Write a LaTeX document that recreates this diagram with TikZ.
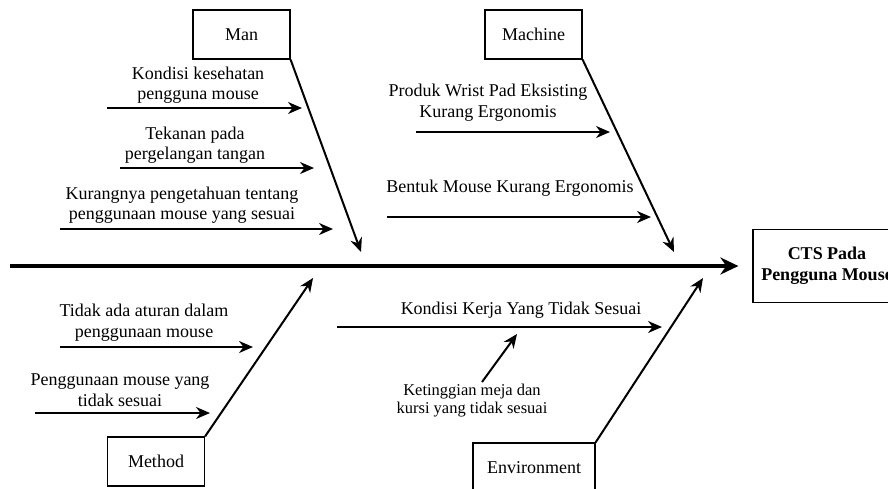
\documentclass[tikz,border=0pt]{standalone}
\usepackage{fontspec}
\setmainfont{Liberation Serif}
\usepackage{tikz}
\usetikzlibrary{arrows.meta,positioning}
\tikzstyle{arrow} = [-{Stealth[length=14pt,width=12pt]}, line width=2pt]
\tikzstyle{spine} = [-{Stealth[length=18pt,width=17pt]}, line width=3.6pt]
\tikzstyle{cat} = [rectangle, draw, line width=1.2pt, minimum width=97pt,
   minimum height=49pt, font=\fontsize{18}{20.5}\selectfont]
\tikzstyle{effect} = [rectangle, draw, line width=1.2pt, minimum width=148pt,
   minimum height=73pt, align=center, font=\fontsize{18}{21}\selectfont\bfseries]
\tikzstyle{cause} = [align=center, inner sep=0pt, font=\fontsize{18}{20.5}\selectfont]
\begin{document}
\begin{tikzpicture}[x=1pt,y=-1pt]
\useasboundingbox (0,0) rectangle (888,488);
\clip (0,0) rectangle (888,488);

% head and spine
\node (head) [effect] at (827,266) {CTS Pada\\Pengguna Mouse};
\coordinate (tail) at (10,266);
\draw [spine, shorten >=14pt] (tail) -- (head.west);

% categories
\node (man) [cat] at (241.5,34.5) {Man};
\node (machine) [cat] at (533.5,34.5) {Machine};
\node (method) [cat] at (156,461.5) {Method};
\node (env) [cat, minimum width=122pt] at (534,467.5) {Environment};

\coordinate (manTip) at (361,252);
\coordinate (machineTip) at (674,252);
\coordinate (methodTip) at (313,278);
\coordinate (envTip) at (703,278);

\draw [arrow] (man.south east) -- (manTip);
\draw [arrow] (machine.south east) -- (machineTip);
\draw [arrow] (method.north east) -- (methodTip);
\draw [arrow] (env.north east) -- (envTip);

% man
\node (kondisi) [cause] at (198,85) {Kondisi kesehatan\\pengguna mouse};
\coordinate (kondisiA) at (107,108);
\coordinate (kondisiB) at (302,108);
\draw [arrow] (kondisiA) -- (kondisiB);

\node (tekanan) [cause] at (195,145) {Tekanan pada\\pergelangan tangan};
\coordinate (tekananA) at (120,168);
\coordinate (tekananB) at (314,168);
\draw [arrow] (tekananA) -- (tekananB);

\node (kurang) [cause] at (182,205) {Kurangnya pengetahuan tentang\\penggunaan mouse yang sesuai};
\coordinate (kurangA) at (60,229);
\coordinate (kurangB) at (333,229);
\draw [arrow] (kurangA) -- (kurangB);

% machine
\node (produk) [cause] at (488,102.5) {Produk Wrist Pad Eksisting\\Kurang Ergonomis};
\coordinate (produkA) at (416,132);
\coordinate (produkB) at (610,132);
\draw [arrow] (produkA) -- (produkB);

\node (bentuk) [cause] at (510,188) {Bentuk Mouse Kurang Ergonomis};
\coordinate (bentukA) at (387,217);
\coordinate (bentukB) at (651,217);
\draw [arrow] (bentukA) -- (bentukB);

% method
\node (aturan) [cause] at (144,322.5) {Tidak ada aturan dalam\\penggunaan mouse};
\coordinate (aturanA) at (60,347);
\coordinate (aturanB) at (253,347);
\draw [arrow] (aturanA) -- (aturanB);

\node (salah) [cause] at (120,390) {Penggunaan mouse yang\\tidak sesuai};
\coordinate (salahA) at (35,413);
\coordinate (salahB) at (210,413);
\draw [arrow] (salahA) -- (salahB);

% environment
\node (kerja) [cause] at (521,310) {Kondisi Kerja Yang Tidak Sesuai};
\coordinate (kerjaA) at (337,327);
\coordinate (kerjaB) at (662,327);
\draw [arrow] (kerjaA) -- (kerjaB);

\node (meja) [cause, font=\fontsize{16.5}{18}\selectfont] at (472,401) {Ketinggian meja dan\\kursi yang tidak sesuai};
\coordinate (mejaA) at (482,382);
\coordinate (mejaTip) at (517,334);
\draw [arrow] (mejaA) -- (mejaTip);

\end{tikzpicture}
\end{document}
